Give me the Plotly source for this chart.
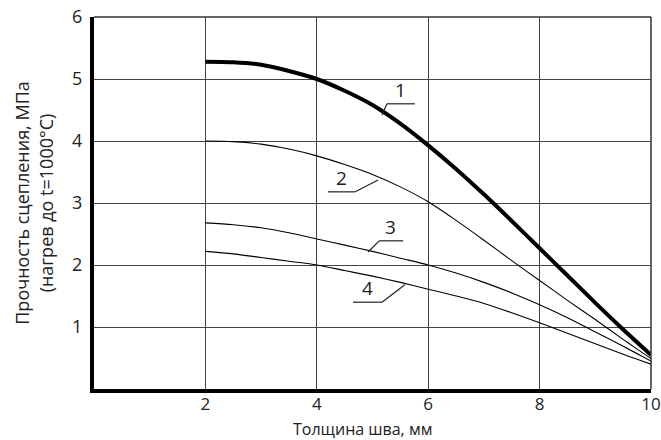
import plotly.graph_objects as go

# Data
x_vals = [2, 2.5, 3, 3.5, 4, 4.5, 5, 5.5, 6, 6.5, 7, 7.5, 8, 8.5, 9, 9.5, 10]
curve1 = [5.28, 5.27, 5.23, 5.13, 5.00, 4.81, 4.58, 4.28, 3.93, 3.55, 3.14, 2.71, 2.27, 1.83, 1.39, 0.96, 0.55]
curve2 = [4.00, 3.99, 3.95, 3.87, 3.76, 3.62, 3.46, 3.26, 3.02, 2.72, 2.40, 2.07, 1.75, 1.43, 1.12, 0.80, 0.49]
curve3 = [2.68, 2.65, 2.60, 2.52, 2.42, 2.32, 2.22, 2.11, 2.00, 1.87, 1.72, 1.55, 1.36, 1.15, 0.92, 0.69, 0.45]
curve4 = [2.22, 2.18, 2.12, 2.06, 2.00, 1.91, 1.82, 1.72, 1.61, 1.50, 1.38, 1.23, 1.07, 0.90, 0.73, 0.56, 0.40]

series_names = ["1", "2", "3", "4"]
x_ticks = [2, 4, 6, 8, 10]
y_ticks = [1, 2, 3, 4, 5, 6]

x_title = "Толщина шва, мм"
y_title = "Прочность сцепления, МПа<br>(нагрев до t=1000°С)"

# label placement (text position, underline start/end, leader end)
label_text_pos = [(5.51, 4.60), (4.44, 3.18), (5.33, 2.39), (4.91, 1.40)]
label_underline = [(5.26, 5.76, 4.60), (4.20, 4.69, 3.18), (5.12, 5.55, 2.39), (4.65, 5.17, 1.40)]
label_leader = [((5.26, 4.60), (5.17, 4.42)), ((4.69, 3.18), (5.10, 3.37)),
                ((5.12, 2.39), (4.92, 2.21)), ((5.17, 1.40), (5.58, 1.68))]

FONT = "Open Sans"

fig = go.Figure()
widths = [4, 1.1, 1.1, 1.1]
for name, ys, w in zip(series_names, [curve1, curve2, curve3, curve4], widths):
    fig.add_trace(go.Scatter(x=x_vals, y=ys, mode="lines", name=name,
                             line=dict(color="black", width=w, shape="spline", smoothing=0.8),
                             showlegend=False, hoverinfo="skip"))

shapes = []
for (x0, x1, yy), (p0, p1) in zip(label_underline, label_leader):
    shapes.append(dict(type="line", xref="x", yref="y", x0=x0, x1=x1, y0=yy, y1=yy,
                       line=dict(color="#222", width=1.2)))
    shapes.append(dict(type="line", xref="x", yref="y", x0=p0[0], y0=p0[1], x1=p1[0], y1=p1[1],
                       line=dict(color="#222", width=1.2)))
# thin top and right frame lines
shapes.append(dict(type="line", xref="paper", yref="paper", x0=0, x1=1, y0=1, y1=1,
                   line=dict(color="#333", width=1.5)))
shapes.append(dict(type="line", xref="paper", yref="paper", x0=1, x1=1, y0=0, y1=1,
                   line=dict(color="#333", width=1.5)))

annotations = []
for name, (tx, ty) in zip(series_names, label_text_pos):
    annotations.append(dict(x=tx, y=ty, xref="x", yref="y", text=name, showarrow=False,
                            yanchor="bottom", xanchor="center", yshift=-1,
                            font=dict(family=FONT, size=19, color="#222")))
# x axis title placed just under the tick labels
annotations.append(dict(x=0.5, y=0, xref="paper", yref="paper", text=x_title, showarrow=False,
                        xanchor="center", yanchor="top", yshift=-28, xshift=-10, borderpad=0,
                        font=dict(family=FONT, size=16, color="#222")))

fig.update_layout(
    width=661, height=440,
    margin=dict(l=94, r=10, t=17, b=51),
    paper_bgcolor="white", plot_bgcolor="white",
    shapes=shapes, annotations=annotations,
    font=dict(family=FONT, size=18, color="#222"),
)
fig.update_xaxes(range=[0, 10], tickvals=x_ticks, showgrid=True, gridcolor="#444", gridwidth=1.2,
                 zeroline=False, showline=True, linecolor="black", linewidth=4, ticks="",
                 tickfont=dict(size=17), automargin=False, ticklabeloverflow="allow",
                 ticklabelstandoff=-3)
fig.update_yaxes(range=[0, 6], tickvals=y_ticks, showgrid=True, gridcolor="#444", gridwidth=1.2,
                 zeroline=False, showline=True, linecolor="black", linewidth=4, ticks="",
                 title=dict(text=y_title, font=dict(size=18), standoff=15),
                 tickfont=dict(size=18), automargin=False, ticklabelstandoff=4,
                 ticklabeloverflow="allow")

fig.write_html("out.html", config={"displayModeBar": False},
               post_script="document.body.style.margin='0px';")
